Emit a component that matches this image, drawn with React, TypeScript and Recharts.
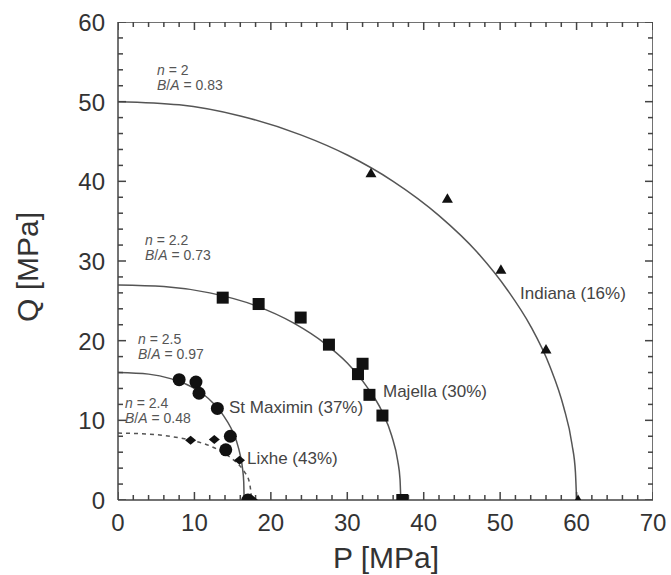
import { ComposedChart, Line, Scatter, XAxis, YAxis } from "recharts";

const FONT = "'Liberation Sans', Arial, sans-serif";
const FRAME = "#444";
const CURVE = "#555";
const INK = "#111";

// axis ticks (minor every 2 MPa, labelled every 10)
const xTicks = [0, 2, 4, 6, 8, 10, 12, 14, 16, 18, 20, 22, 24, 26, 28, 30, 32, 34, 36, 38, 40, 42, 44, 46, 48, 50, 52, 54, 56, 58, 60, 62, 64, 66, 68, 70];
const yTicks = [0, 2, 4, 6, 8, 10, 12, 14, 16, 18, 20, 22, 24, 26, 28, 30, 32, 34, 36, 38, 40, 42, 44, 46, 48, 50, 52, 54, 56, 58, 60];
const X_MAX = 70;
const Y_MAX = 60;

// yield envelopes
const indianaCurve = [
  { p: 0, q: 50 }, { p: 8, q: 49.6 }, { p: 16, q: 48.2 }, { p: 24, q: 45.8 }, { p: 30, q: 43.3 },
  { p: 36, q: 40 }, { p: 42, q: 35.7 }, { p: 47, q: 31.1 }, { p: 51, q: 26.3 }, { p: 54, q: 21.8 },
  { p: 56.5, q: 16.8 }, { p: 58.3, q: 11.7 }, { p: 59.4, q: 7 }, { p: 59.85, q: 3.5 }, { p: 60, q: 0 },
];
const majellaCurve = [
  { p: 0, q: 27 }, { p: 6, q: 26.8 }, { p: 12, q: 26 }, { p: 18, q: 24.4 }, { p: 23, q: 22.2 },
  { p: 27, q: 19.7 }, { p: 30, q: 17.2 }, { p: 32.5, q: 14.3 }, { p: 34.5, q: 11.2 }, { p: 35.8, q: 8.1 },
  { p: 36.6, q: 4.9 }, { p: 36.9, q: 2.6 }, { p: 37, q: 0 },
];
const stMaximinCurve = [
  { p: 0, q: 16 }, { p: 4, q: 15.8 }, { p: 7, q: 15.2 }, { p: 9, q: 14.5 }, { p: 11, q: 13.4 },
  { p: 12.5, q: 12.1 }, { p: 13.8, q: 10.6 }, { p: 14.8, q: 9 }, { p: 15.5, q: 7.4 }, { p: 16, q: 5.6 },
  { p: 16.3, q: 3.9 }, { p: 16.45, q: 2.3 }, { p: 16.5, q: 0 },
];
const lixheCurve = [
  { p: 0, q: 8.4 }, { p: 5, q: 8.2 }, { p: 8, q: 7.8 }, { p: 10, q: 7.4 }, { p: 12, q: 6.8 },
  { p: 14, q: 5.8 }, { p: 15.5, q: 4.7 }, { p: 16.5, q: 3.6 }, { p: 17.2, q: 2.2 }, { p: 17.5, q: 0 },
];

// measured points
const indianaPoints = [
  { p: 33.1, q: 41 }, { p: 43.1, q: 37.8 }, { p: 50.1, q: 28.9 }, { p: 56, q: 18.9 }, { p: 60.2, q: 0 },
];
const majellaPoints = [
  { p: 13.7, q: 25.4 }, { p: 18.4, q: 24.6 }, { p: 23.9, q: 22.9 }, { p: 27.6, q: 19.5 }, { p: 32, q: 17.1 },
  { p: 31.4, q: 15.8 }, { p: 32.9, q: 13.2 }, { p: 34.6, q: 10.6 }, { p: 37.2, q: 0 },
];
const stMaximinPoints = [
  { p: 8, q: 15.1 }, { p: 10.2, q: 14.8 }, { p: 10.6, q: 13.4 }, { p: 13, q: 11.5 }, { p: 14.7, q: 8 },
  { p: 14.1, q: 6.3 }, { p: 17, q: 0 },
];
const lixhePoints = [
  { p: 9.5, q: 7.5 }, { p: 12.6, q: 7.6 }, { p: 15.9, q: 5 }, { p: 17.6, q: 0 },
];

// frame corners (top and right edges of the box)
const frameEdge = [{ p: 0, q: Y_MAX }, { p: X_MAX, q: Y_MAX }, { p: X_MAX, q: 0 }];

// tick anchor positions on the four sides
const bottomTickPts = xTicks.map((v) => ({ p: v, q: 0, v }));
const topTickPts = xTicks.map((v) => ({ p: v, q: Y_MAX, v }));
const leftTickPts = yTicks.map((v) => ({ p: 0, q: v, v }));
const rightTickPts = yTicks.map((v) => ({ p: X_MAX, q: v, v }));

const isMajor = (v: number) => v % 10 === 0;
const TW = 1.5;
const len = (v: number) => (isMajor(v) ? 8 : 5);

const tickUp = (props: any) => {
  const { cx, cy, payload } = props;
  const l = len(payload.v);
  return <rect x={cx - TW / 2} y={cy - l} width={TW} height={l} fill={FRAME} />;
};
const tickDown = (props: any) => {
  const { cx, cy, payload } = props;
  return <rect x={cx - TW / 2} y={cy} width={TW} height={len(payload.v)} fill={FRAME} />;
};
const tickRight = (props: any) => {
  const { cx, cy, payload } = props;
  return <rect x={cx} y={cy - TW / 2} width={len(payload.v)} height={TW} fill={FRAME} />;
};
const tickLeft = (props: any) => {
  const { cx, cy, payload } = props;
  const l = len(payload.v);
  return <rect x={cx - l} y={cy - TW / 2} width={l} height={TW} fill={FRAME} />;
};

const triangle = (props: any) => {
  const { cx, cy } = props;
  return <polygon points={`${cx - 5.5},${cy + 4} ${cx + 5.5},${cy + 4} ${cx},${cy - 5.5}`} fill={INK} />;
};
const square = (props: any) => {
  const { cx, cy } = props;
  return <rect x={cx - 6} y={cy - 6} width={12} height={12} fill={INK} />;
};
const circle = (props: any) => {
  const { cx, cy } = props;
  return <circle cx={cx} cy={cy} r={6.5} fill={INK} />;
};
const diamond = (props: any) => {
  const { cx, cy } = props;
  return <polygon points={`${cx - 5.5},${cy} ${cx},${cy - 4.5} ${cx + 5.5},${cy} ${cx},${cy + 4.5}`} fill={INK} />;
};

function BottomLabel({ x, y, payload }: any) {
  if (!isMajor(payload.value)) return <g />;
  return (
    <text x={x} y={y + 31} textAnchor="middle" fontSize={24} fontFamily={FONT} fill="#333">
      {payload.value}
    </text>
  );
}

function LeftLabel({ x, y, payload }: any) {
  if (!isMajor(payload.value)) return <g />;
  return (
    <text x={x - 13} y={y + 9} textAnchor="end" fontSize={24} fontFamily={FONT} fill="#333">
      {payload.value}
    </text>
  );
}

const annStyle = { fontSize: 14, fontFamily: FONT, fill: "#555" };
const labelStyle = { fontSize: 17, fontFamily: FONT, fill: "#444" };

function Ann({ x, y, n, ba }: { x: number; y: number; n: string; ba: string }) {
  return (
    <g>
      <text x={x} y={y} {...annStyle}>
        <tspan fontStyle="italic">n</tspan> = {n}
      </text>
      <text x={x} y={y + 15} {...annStyle}>
        <tspan fontStyle="italic">B</tspan>/<tspan fontStyle="italic">A</tspan> = {ba}
      </text>
    </g>
  );
}

export default function App() {
  const axisLine = { stroke: FRAME, strokeWidth: 1.5 };
  return (
    <div style={{ position: "absolute", left: 0, top: 0, width: 671, height: 575, background: "#fff" }}>
      <ComposedChart width={671} height={575} margin={{ top: 22, right: 18, bottom: 0, left: 0 }}>
        <XAxis
          dataKey="p" type="number" domain={[0, X_MAX]} ticks={xTicks} interval={0} allowDataOverflow
          height={75} tickSize={0} tickMargin={0} tickLine={false} axisLine={axisLine}
          tick={(props: any) => <BottomLabel {...props} />}
        />
        <YAxis
          dataKey="q" type="number" domain={[0, Y_MAX]} ticks={yTicks} interval={0} allowDataOverflow
          width={118} tickSize={0} tickMargin={0} tickLine={false} axisLine={axisLine}
          tick={(props: any) => <LeftLabel {...props} />}
        />

        {/* closing frame and inward ticks, placed through the axis scales */}
        <Line data={frameEdge} dataKey="q" type="linear" stroke={FRAME} strokeWidth={1.5} dot={false} isAnimationActive={false} />
        <Scatter data={bottomTickPts} dataKey="q" shape={tickUp} isAnimationActive={false} />
        <Scatter data={topTickPts} dataKey="q" shape={tickDown} isAnimationActive={false} />
        <Scatter data={leftTickPts} dataKey="q" shape={tickRight} isAnimationActive={false} />
        <Scatter data={rightTickPts} dataKey="q" shape={tickLeft} isAnimationActive={false} />

        <Line data={indianaCurve} dataKey="q" type="monotone" stroke={CURVE} strokeWidth={1.5} dot={false} isAnimationActive={false} />
        <Line data={majellaCurve} dataKey="q" type="monotone" stroke={CURVE} strokeWidth={1.5} dot={false} isAnimationActive={false} />
        <Line data={stMaximinCurve} dataKey="q" type="monotone" stroke={CURVE} strokeWidth={1.5} dot={false} isAnimationActive={false} />
        <Line data={lixheCurve} dataKey="q" type="monotone" stroke={CURVE} strokeWidth={1.5} strokeDasharray="4 4" dot={false} isAnimationActive={false} />

        <Scatter data={indianaPoints} dataKey="q" shape={triangle} isAnimationActive={false} />
        <Scatter data={majellaPoints} dataKey="q" shape={square} isAnimationActive={false} />
        <Scatter data={stMaximinPoints} dataKey="q" shape={circle} isAnimationActive={false} />
        <Scatter data={lixhePoints} dataKey="q" shape={diamond} isAnimationActive={false} />

        <g className="annotations">
          <Ann x={157} y={75} n="2" ba="0.83" />
          <Ann x={145} y={245} n="2.2" ba="0.73" />
          <Ann x={138} y={344} n="2.5" ba="0.97" />
          <Ann x={125} y={408} n="2.4" ba="0.48" />

          <text x={520} y={299} {...labelStyle}>Indiana (16%)</text>
          <text x={383} y={397} {...labelStyle}>Majella (30%)</text>
          <text x={229} y={413} {...labelStyle}>St Maximin (37%)</text>
          <text x={247} y={464} {...labelStyle}>Lixhe (43%)</text>

          <text x={386} y={568} textAnchor="middle" fontSize={30} fontFamily={FONT} fill="#333">P [MPa]</text>
          <text transform="translate(38,267) rotate(-90)" textAnchor="middle" fontSize={30} fontFamily={FONT} fill="#333">Q [MPa]</text>
        </g>
      </ComposedChart>
    </div>
  );
}
